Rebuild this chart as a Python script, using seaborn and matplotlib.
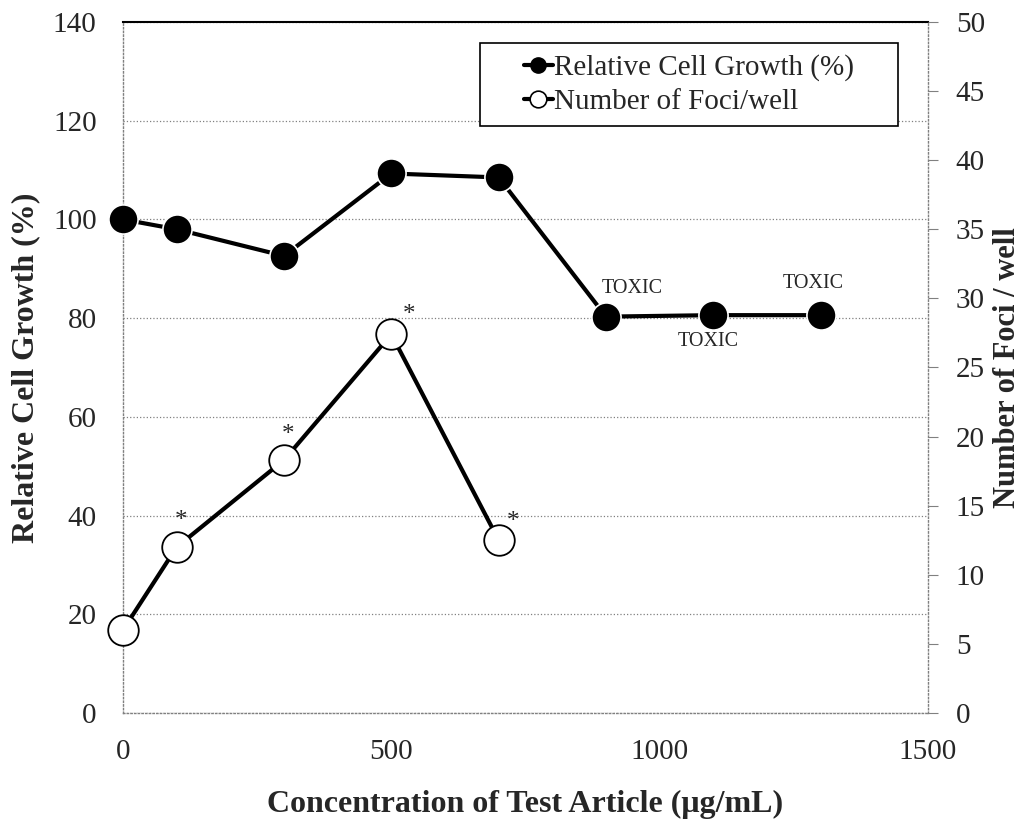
import numpy as np
import pandas as pd
import seaborn as sns
import matplotlib.pyplot as plt
from matplotlib.lines import Line2D
from matplotlib.patches import Rectangle

# Data
conc = [0, 100, 300, 500, 700, 900, 1100, 1300]
growth = [100.0, 98.0, 92.6, 109.3, 108.5, 80.3, 80.6, 80.6]

foci_conc = [0, 100, 300, 500, 700]
foci = [6.0, 12.0, 18.3, 27.4, 12.5]

star_conc = [100, 300, 500, 700]
star_foci = [12.0, 18.3, 27.4, 12.5]
star_offsets = [(3, 19), (3, 18), (13, 14), (10, 13)]

toxic_conc = [900, 1100, 1300]
toxic_growth = [80.3, 80.6, 80.6]
toxic_offsets = [(19, 20), (-4, -19), (-5, 23)]

sns.set_style("white")
plt.rcParams['font.family'] = ['Liberation Serif', 'DejaVu Serif']

fig = plt.figure(figsize=(10.3, 8.23), dpi=100)
ax = fig.add_axes([0.1194, 0.1337, 0.9010 - 0.1194, 0.9733 - 0.1337])
ax2 = ax.twinx()

# Relative cell growth (left axis)
sns.lineplot(x=conc, y=growth, ax=ax, color='black', lw=3, marker='o',
             markersize=21, markerfacecolor='black', markeredgecolor='white',
             markeredgewidth=1.2, zorder=3, clip_on=False)

# Number of foci (right axis)
sns.lineplot(x=foci_conc, y=foci, ax=ax2, color='black', lw=3, marker='o',
             markersize=22, markerfacecolor='white', markeredgecolor='black',
             markeredgewidth=1.3, zorder=3, clip_on=False)

for xc, yv, off in zip(star_conc, star_foci, star_offsets):
    ax2.annotate('*', (xc, yv), xytext=off, textcoords='offset points',
                 ha='center', va='center', fontsize=18)

for xc, yv, off in zip(toxic_conc, toxic_growth, toxic_offsets):
    ax.annotate('TOXIC', (xc, yv), xytext=off, textcoords='offset points',
                ha='center', va='center', fontsize=14.5)

ax.set_xlim(0, 1500)
ax.set_ylim(0, 140)
ax2.set_ylim(0, 50)
ax.set_xticks([0, 500, 1000, 1500])
ax.set_yticks(np.arange(0, 141, 20))
ax2.set_yticks(np.arange(0, 51, 5))

ax.yaxis.grid(True, color='gray', linestyle=':', lw=0.9)
ax.xaxis.grid(False)
ax.set_axisbelow(True)

ax.tick_params(axis='y', length=0, pad=19, labelsize=21)
ax.tick_params(axis='x', length=0, pad=19, labelsize=21)
ax2.tick_params(axis='y', direction='out', length=7, width=0.8, color='gray',
                pad=13, labelsize=21)

for s in ['left', 'bottom']:
    ax.spines[s].set_color('gray')
    ax.spines[s].set_linestyle(':')
    ax.spines[s].set_linewidth(1)
ax.spines['right'].set_visible(False)
ax.spines['top'].set_color('black')
ax.spines['top'].set_linewidth(1.5)
for s in ['left', 'bottom', 'top']:
    ax2.spines[s].set_visible(False)
ax2.spines['right'].set_color('gray')
ax2.spines['right'].set_linestyle(':')
ax2.spines['right'].set_linewidth(1)

ax.set_xlabel('Concentration of Test Article (μg/mL)', fontsize=23,
              fontweight='bold', labelpad=18)
ax.set_ylabel('Relative Cell Growth (%)', fontsize=23, fontweight='bold',
              labelpad=9)
ax2.set_ylabel('Number of Foci / well', fontsize=22, fontweight='bold',
               labelpad=6)

# Legend
handles = [
    Line2D([], [], color='black', lw=3, marker='o', markersize=11,
           markerfacecolor='black', markeredgecolor='black'),
    Line2D([], [], color='black', lw=3, marker='o', markersize=12,
           markerfacecolor='white', markeredgecolor='black', markeredgewidth=1.2),
]
labels = ['Relative Cell Growth (%)', 'Number of Foci/well']
box = Rectangle((0.4435, 0.8495), 0.9627 - 0.4435, 0.9696 - 0.8495,
                transform=ax2.transAxes, facecolor='white', edgecolor='black',
                lw=1.2, zorder=5)
ax2.add_patch(box)
leg = ax2.legend(handles, labels, loc='center', bbox_to_anchor=(0.703, 0.9096),
                 frameon=False, fontsize=21, handlelength=1.0, handletextpad=0.05,
                 labelspacing=0.25, borderpad=0)
leg.set_zorder(6)

fig.savefig('out.png', dpi=100)
